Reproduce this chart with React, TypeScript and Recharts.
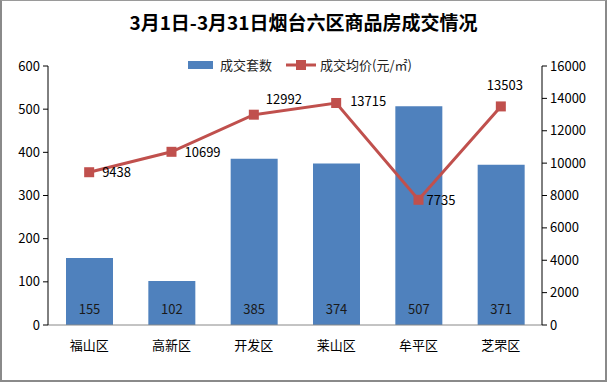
import { Bar, ComposedChart, LabelList, Line, XAxis, YAxis } from "recharts"

const districts = ["福山区", "高新区", "开发区", "莱山区", "牟平区", "芝罘区"]
const dealCounts = [155, 102, 385, 374, 507, 371]
const avgPrices = [9438, 10699, 12992, 13715, 7735, 13503]
const leftTicks = [0, 100, 200, 300, 400, 500, 600]
const rightTicks = [0, 2000, 4000, 6000, 8000, 10000, 12000, 14000, 16000]

const data = districts.map((name, i) => ({
  name,
  count: dealCounts[i],
  price: avgPrices[i],
}))

const FONT = '"Microsoft YaHei", "Noto Sans CJK SC", sans-serif'
const BLUE = "#4F81BD"
const RED = "#C0504D"

// label placement for the price line, per point
const priceLabelPos = [
  { dx: 13, dy: 0, anchor: "start" },
  { dx: 13, dy: 0, anchor: "start" },
  { dx: 12, dy: -16, anchor: "start" },
  { dx: 14, dy: -2, anchor: "start" },
  { dx: 8, dy: 0, anchor: "start" },
  { dx: 4, dy: -21, anchor: "middle" },
]

const SquareDot = (props: any) => {
  const { cx, cy } = props
  return <rect x={cx - 5} y={cy - 5} width={10} height={10} fill={RED} />
}

const PriceLabel = (props: any) => {
  const { x, y, value, index } = props
  const p = priceLabelPos[index]
  return (
    <text x={x + p.dx} y={y + p.dy} dy={5} textAnchor={p.anchor} fontSize={13} fill="#000" fontFamily={FONT}>
      {value}
    </text>
  )
}

const CountLabel = (props: any) => {
  const { x, y, width, height, value } = props
  return (
    <text x={x + width / 2} y={y + height - 11} textAnchor="middle" fontSize={13} fill="#1a1a1a" fontFamily={FONT}>
      {value}
    </text>
  )
}

const ChartLegend = () => (
  <div
    style={{
      position: "absolute",
      top: 55,
      left: 188,
      display: "flex",
      alignItems: "center",
      fontSize: 13,
      color: "#222",
      fontFamily: FONT,
      whiteSpace: "nowrap",
      zIndex: 1,
    }}
  >
    <div style={{ width: 25, height: 8, background: BLUE, marginRight: 7 }} />
    <span style={{ marginRight: 14 }}>成交套数</span>
    <svg width={30} height={12} style={{ marginRight: 4 }}>
      <line x1={0} y1={6} x2={30} y2={6} stroke={RED} strokeWidth={3} />
      <rect x={10} y={1} width={10} height={10} fill={RED} />
    </svg>
    <span>成交均价(元/㎡)</span>
  </div>
)

export default function App() {
  return (
    <div style={{ position: "absolute", left: 0, top: 0, width: 607, height: 382, background: "#fff", fontFamily: FONT }}>
      <div
        style={{
          position: "absolute",
          left: 0,
          top: 0,
          width: 607,
          height: 382,
          boxSizing: "border-box",
          borderLeft: "2px solid #8a8a8a",
          borderRight: "2px solid #8a8a8a",
          borderBottom: "2px solid #8a8a8a",
          borderTop: "1px solid #9a9a9a",
          pointerEvents: "none",
          zIndex: 2,
        }}
      />
      <div
        style={{
          position: "absolute",
          top: 8,
          left: 0,
          width: 607,
          textAlign: "center",
          fontSize: 19,
          fontWeight: "bold",
          color: "#000",
        }}
      >
        3月1日-3月31日烟台六区商品房成交情况
      </div>
      <ChartLegend />
      <ComposedChart
        width={607}
        height={382}
        data={data}
        margin={{ top: 66, right: 0, bottom: 27, left: 0 }}
        barCategoryGap={0}
        style={{ fontFamily: FONT }}
      >
        <XAxis
          dataKey="name"
          height={30}
          tickLine={false}
          axisLine={{ stroke: "#888" }}
          tickMargin={10}
          tick={{ fontSize: 13, fill: "#000", fontFamily: FONT }}
        />
        <YAxis
          yAxisId="left"
          width={48}
          domain={[0, 600]}
          ticks={leftTicks}
          interval={0}
          axisLine={{ stroke: "#000" }}
          tickLine={{ stroke: "#000" }}
          tickSize={5}
          tickMargin={3}
          tick={{ fontSize: 13, fill: "#000", fontFamily: FONT }}
        />
        <YAxis
          yAxisId="right"
          orientation="right"
          width={65}
          domain={[0, 16000]}
          ticks={rightTicks}
          interval={0}
          axisLine={{ stroke: "#000" }}
          tickLine={{ stroke: "#000" }}
          tickSize={5}
          tickMargin={3}
          tick={{ fontSize: 13, fill: "#000", fontFamily: FONT }}
        />
        <Bar yAxisId="left" dataKey="count" fill={BLUE} barSize={47} isAnimationActive={false}>
          <LabelList dataKey="count" content={<CountLabel />} />
        </Bar>
        <Line
          yAxisId="right"
          dataKey="price"
          stroke={RED}
          strokeWidth={3}
          dot={<SquareDot />}
          activeDot={false}
          isAnimationActive={false}
        >
          <LabelList dataKey="price" content={<PriceLabel />} />
        </Line>
      </ComposedChart>
    </div>
  )
}
